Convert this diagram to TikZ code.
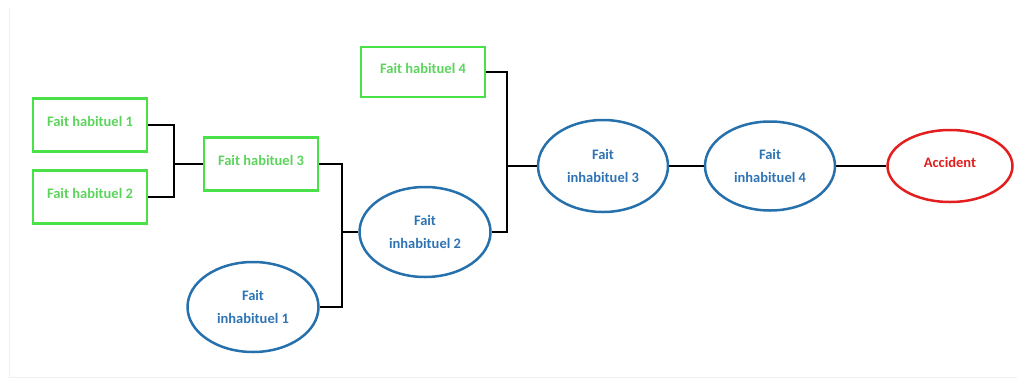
\documentclass[tikz,border=0pt]{standalone}
\usepackage{fontspec}
\setmainfont{Carlito}
\usetikzlibrary{shapes.geometric}
\definecolor{hgreen}{RGB}{72,226,72}
\definecolor{hgtext}{RGB}{92,212,92}
\definecolor{iblue}{RGB}{38,112,172}
\definecolor{ibtext}{RGB}{46,116,180}
\definecolor{ared}{RGB}{226,30,30}
\begin{document}
\begin{tikzpicture}[x=1pt,y=-1pt,
 hab/.style={draw=hgreen, line width=2.5pt, rectangle, minimum width=114pt, minimum height=53pt, inner sep=0pt, text=hgtext, font=\fontsize{14.5}{17}\selectfont\bfseries},
 inhab/.style={draw=iblue, line width=2.5pt, ellipse, minimum width=131pt, minimum height=90pt, inner sep=0pt, text=ibtext, align=center, font=\fontsize{14.5}{23.5}\selectfont\bfseries},
 accid/.style={draw=ared, line width=2.5pt, ellipse, minimum width=125pt, minimum height=72pt, inner sep=0pt, text=ared, font=\fontsize{14.5}{17}\selectfont\bfseries},
 link/.style={draw=black, line width=2pt}]
\useasboundingbox (0,0) rectangle (1017,378);
\draw[black!6, line width=1pt] (9,8) -- (9,377) -- (1017,377);

\node[hab] (fh1) at (90,125) {\raisebox{8pt}{Fait habituel 1}};
\node[hab] (fh2) at (90,197) {\raisebox{8pt}{Fait habituel 2}};
\node[hab] (fh3) at (261,164) {\raisebox{8pt}{Fait habituel 3}};
\node[hab, minimum width=124pt, minimum height=50pt] (fh4) at (423,72) {\raisebox{8pt}{Fait habituel 4}};

\node[inhab] (fi1) at (253,307) {Fait\\inhabituel 1};
\node[inhab] (fi2) at (425,232) {Fait\\inhabituel 2};
\node[inhab, minimum width=130pt, minimum height=92pt] (fi3) at (603,166) {Fait\\inhabituel 3};
\node[inhab, minimum width=130pt, minimum height=89pt] (fi4) at (770,166) {Fait\\inhabituel 4};
\node[accid] (acc) at (950,166) {\raisebox{8pt}{Accident}};

\coordinate (j1) at (174,164);
\coordinate (j2) at (342,232);
\coordinate (j3) at (507,166);

\draw[link] (fh1.east) -| (j1) |- (fh2.east);
\draw[link] (j1) -- (fh3.west);
\draw[link] (fh3.east) -| (j2) |- (fi1.east);
\draw[link] (j2) -- (fi2.west);
\draw[link] (fh4.east) -| (j3) |- (fi2.east);
\draw[link] (j3) -- (fi3.west);
\draw[link] (fi3.east) -- (fi4.west);
\draw[link] (fi4.east) -- (acc.west);
\end{tikzpicture}
\end{document}
